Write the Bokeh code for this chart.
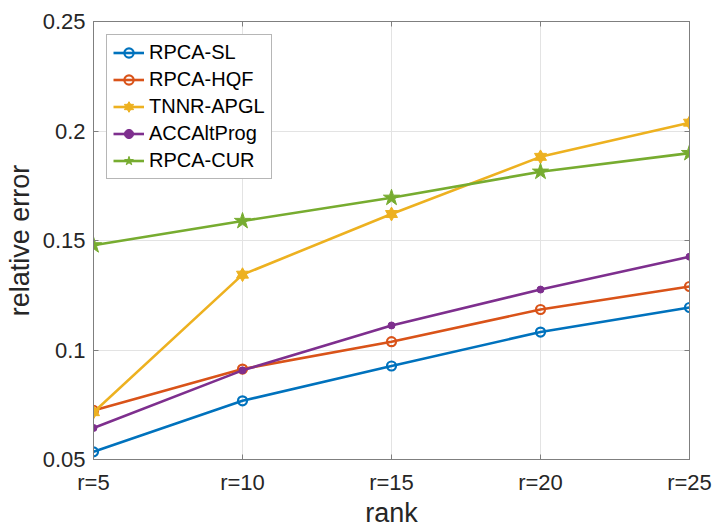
from bokeh.plotting import figure
from bokeh.models import FixedTicker, LinearAxis, Range1d, Legend, LegendItem
from bokeh.embed import file_html
from bokeh.resources import INLINE

# ---- data ----
ranks = [5, 10, 15, 20, 25]
rank_labels = ["r=5", "r=10", "r=15", "r=20", "r=25"]
y_ticks = [0.05, 0.1, 0.15, 0.2, 0.25]
y_tick_labels = ["0.05", "0.1", "0.15", "0.2", "0.25"]

rpca_sl = [0.0535, 0.0768, 0.0927, 0.1082, 0.1194]
rpca_hqf = [0.0724, 0.0913, 0.1038, 0.1185, 0.1290]
tnnr_apgl = [0.0716, 0.1344, 0.1621, 0.1882, 0.2038]
accaltprog = [0.0644, 0.0907, 0.1112, 0.1276, 0.1426]
rpca_cur = [0.1478, 0.1589, 0.1695, 0.1814, 0.1899]

FONT = "Liberation Sans"
TXT = "#262626"
AX = "#7f7f7f"

p = figure(width=716, height=530, x_range=Range1d(5, 25), y_range=Range1d(0.05, 0.25),
           output_backend="svg", toolbar_location=None,
           min_border_left=93, min_border_right=27, min_border_top=21, min_border_bottom=69)

p.outline_line_color = AX
p.outline_line_width = 1
p.background_fill_color = "white"

# axes
p.xaxis.ticker = FixedTicker(ticks=ranks)
p.xaxis.major_label_overrides = dict(zip(ranks, rank_labels))
p.yaxis.ticker = FixedTicker(ticks=y_ticks)
p.yaxis.major_label_overrides = dict(zip(y_ticks, y_tick_labels))
p.xaxis.axis_label = "rank"
p.yaxis.axis_label = "relative error"
for ax in (p.xaxis, p.yaxis):
    ax.major_label_text_font = FONT
    ax.major_label_text_font_size = "22px"
    ax.major_label_text_color = TXT
    ax.axis_label_text_font = FONT
    ax.axis_label_text_font_size = "27px"
    ax.axis_label_text_font_style = "normal"
    ax.axis_label_text_color = TXT
    ax.axis_line_color = AX
    ax.major_tick_line_color = AX
    ax.major_tick_in = 5
    ax.major_tick_out = 0
    ax.minor_tick_line_color = None
p.xaxis.major_label_standoff = 10
p.xaxis.axis_label_standoff = 0
p.yaxis.major_label_standoff = 8
p.yaxis.axis_label_standoff = 5

# box ticks (right / top), no labels
r_ax = LinearAxis(ticker=FixedTicker(ticks=y_ticks), major_label_text_color=None,
                  major_label_text_font_size="1px",
                  major_tick_in=5, major_tick_out=0, minor_tick_line_color=None,
                  axis_line_color=AX, major_tick_line_color=AX, major_label_standoff=0)
t_ax = LinearAxis(ticker=FixedTicker(ticks=ranks), major_label_text_color=None,
                  major_label_text_font_size="1px",
                  major_tick_in=5, major_tick_out=0, minor_tick_line_color=None,
                  axis_line_color=AX, major_tick_line_color=AX, major_label_standoff=0)
p.add_layout(r_ax, "right")
p.add_layout(t_ax, "above")

# grid
p.xgrid.ticker = FixedTicker(ticks=ranks)
p.ygrid.ticker = FixedTicker(ticks=y_ticks)
for g in (p.xgrid, p.ygrid):
    g.grid_line_color = "#e3e3e3"
    g.grid_line_width = 1

LW = 2.6
items = []

c = "#0072BD"
l1 = p.line(ranks, rpca_sl, line_color=c, line_width=LW)
m1 = p.scatter(ranks, rpca_sl, marker="circle", size=9, fill_color=None, line_color=c, line_width=2.2)
items.append(LegendItem(label="RPCA-SL", renderers=[l1, m1]))

c = "#D95319"
l2 = p.line(ranks, rpca_hqf, line_color=c, line_width=LW)
m2 = p.scatter(ranks, rpca_hqf, marker="circle", size=9, fill_color=None, line_color=c, line_width=2.2)
items.append(LegendItem(label="RPCA-HQF", renderers=[l2, m2]))

c = "#EDB120"
l3 = p.line(ranks, tnnr_apgl, line_color=c, line_width=LW)
m3a = p.scatter(ranks, tnnr_apgl, marker="triangle", size=12, fill_color=c, line_color=c, line_width=1)
m3b = p.scatter(ranks, tnnr_apgl, marker="inverted_triangle", size=12, fill_color=c, line_color=c, line_width=1)
items.append(LegendItem(label="TNNR-APGL", renderers=[l3, m3a, m3b]))

c = "#7E2F8E"
l4 = p.line(ranks, accaltprog, line_color=c, line_width=LW)
m4 = p.scatter(ranks, accaltprog, marker="circle", size=7, fill_color=c, line_color=c, line_width=1)
items.append(LegendItem(label="ACCAltProg", renderers=[l4, m4]))

c = "#77AC30"
l5 = p.line(ranks, rpca_cur, line_color=c, line_width=LW)
m5 = p.scatter(ranks, rpca_cur, marker="star", size=17, fill_color=c, line_color=c, line_width=1)
items.append(LegendItem(label="RPCA-CUR", renderers=[l5, m5]))

legend = Legend(items=items, location="top_left")
legend.label_text_font = FONT
legend.label_text_font_size = "20px"
legend.label_text_color = "black"
legend.glyph_width = 31
legend.glyph_height = 23
legend.label_height = 23
legend.spacing = 4
legend.padding = 6
legend.margin = 13
legend.label_standoff = 5
legend.border_line_color = "#6e6e6e"
legend.border_line_width = 1
legend.background_fill_color = "white"
legend.background_fill_alpha = 1
p.add_layout(legend)

open("out.html", "w").write(file_html(p, INLINE))
